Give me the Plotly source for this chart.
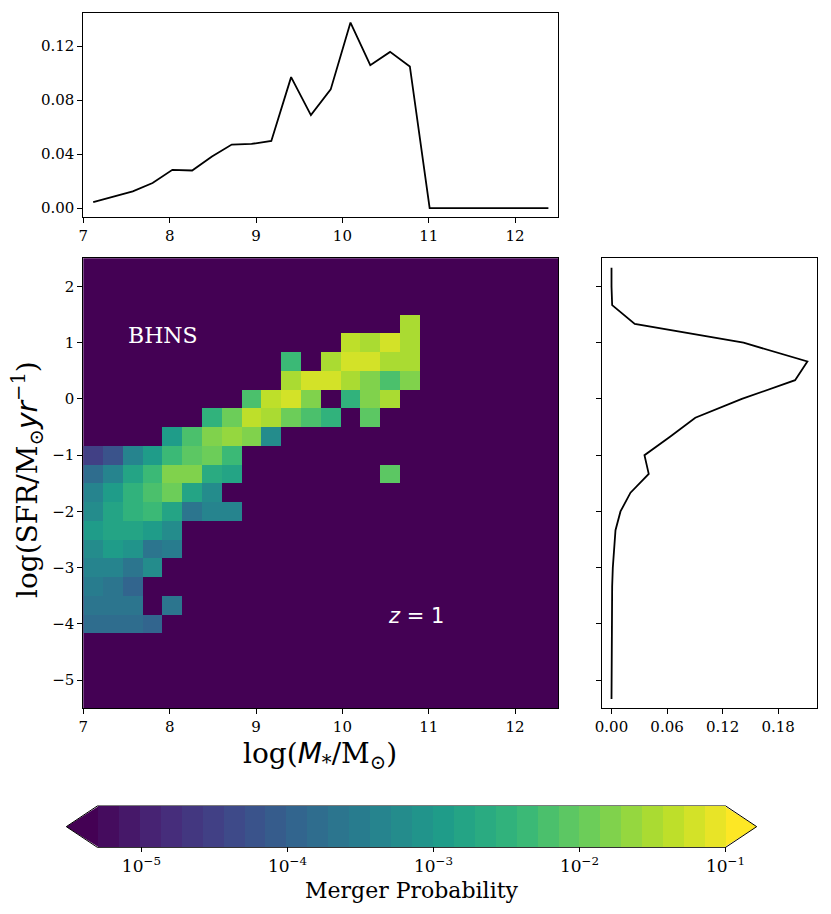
import numpy as np
import plotly.graph_objects as go
from plotly.colors import sample_colorscale

W, H = 831, 914

# 24 x 24 grid of the 2D histogram
mass_edges = np.linspace(7.0, 12.5, 25)
sfr_edges = np.linspace(-5.5, 2.5, 25)
mass_centres = 0.5 * (mass_edges[1:] + mass_edges[:-1])
sfr_centres = 0.5 * (sfr_edges[1:] + sfr_edges[:-1])

# marginal distributions
mass_marginal = [0.0044, 0.0081, 0.0123, 0.0185, 0.0283, 0.0278, 0.0382, 0.0470,
                 0.0475, 0.0497, 0.0970, 0.0689, 0.0879, 0.1374, 0.1058, 0.1157,
                 0.1049, 0.0, 0.0, 0.0, 0.0, 0.0, 0.0, 0.0]
sfr_marginal = [0.0, 0.0, 0.0, 0.0, 0.0004, 0.0007, 0.0007, 0.0014,
                0.0025, 0.0043, 0.0097, 0.0205, 0.0402, 0.0356, 0.0636, 0.0905,
                0.1408, 0.1983, 0.2116, 0.1426, 0.0251, 0.0007, 0.0, 0.0]

# merger probability per cell: rows = SFR bins 4..20, columns = mass bins 0..16
_ = None
first_row = 4
merger_prob = [
    [1.5e-4, 1.5e-4, 1.5e-4, 1.13e-4, _, _, _, _, _, _, _, _, _, _, _, _, _],
    [1.95e-4, 2.6e-4, 2.6e-4, _, 2.6e-4, _, _, _, _, _, _, _, _, _, _, _, _],
    [2.9e-4, 2.05e-4, 1.13e-4, _, _, _, _, _, _, _, _, _, _, _, _, _, _],
    [4.3e-4, 4.75e-4, 2.6e-4, 6.1e-4, _, _, _, _, _, _, _, _, _, _, _, _, _],
    [5.5e-4, 1.0e-3, 7.1e-4, 2.15e-4, 3.5e-4, _, _, _, _, _, _, _, _, _, _, _, _],
    [1.0e-3, 1.5e-3, 1.5e-3, 1.22e-3, 5.25e-4, _, _, _, _, _, _, _, _, _, _, _, _],
    [5.5e-4, 1.5e-3, 3.45e-3, 4.9e-3, 1.56e-3, 1.95e-4, 3.9e-4, 3.9e-4, _, _, _, _, _, _, _, _, _],
    [4.5e-4, 1.05e-3, 3.45e-3, 6.9e-3, 1.08e-2, 1.9e-3, 5.8e-4, _, _, _, _, _, _, _, _, _, _],
    [1.76e-4, 3.9e-4, 1.9e-3, 4.65e-3, 1.39e-2, 1.39e-2, 2.1e-3, 1.42e-3, _, _, _, _, _, _, _, 8.5e-3, _],
    [2.7e-5, 5.9e-5, 4.3e-4, 1.05e-3, 4.65e-3, 7.3e-3, 1.25e-2, 4.65e-3, _, _, _, _, _, _, _, _, _],
    [_, _, _, _, 1.22e-3, 5.6e-3, 1.86e-2, 2.63e-2, 1.39e-2, 5.8e-4, _, _, _, _, _, _, _],
    [_, _, _, _, _, _, 3.1e-3, 1.25e-2, 4.1e-2, 2.76e-2, 1.08e-2, 6.25e-3, 3.45e-3, _, 8.5e-3, _, _],
    [_, _, _, _, _, _, _, _, 5.6e-3, 3.9e-2, 7.1e-2, 1.39e-2, _, 3.1e-3, 1.86e-2, 3.05e-2, _],
    [_, _, _, _, _, _, _, _, _, _, 3.5e-2, 6.7e-2, 5.25e-2, 3.7e-2, 1.39e-2, 6.25e-3, 1.86e-2],
    [_, _, _, _, _, _, _, _, _, _, 4.65e-3, _, 3.5e-2, 6.4e-2, 5.25e-2, 2.76e-2, 3.37e-2],
    [_, _, _, _, _, _, _, _, _, _, _, _, _, 5.0e-2, 2.76e-2, 6.7e-2, 3.7e-2],
    [_, _, _, _, _, _, _, _, _, _, _, _, _, _, _, _, 2.76e-2],
]

prob_min, prob_max = 5e-6, 1e-1
n_levels = 30
cbar_ticks = [-5, -4, -3, -2, -1]

# pad into the full grid, log10 for the colour scale
grid = np.full((len(sfr_centres), len(mass_centres)), np.nan)
for k, row in enumerate(merger_prob):
    for i, v in enumerate(row):
        if v is not None:
            grid[first_row + k, i] = np.log10(v)

zmin, zmax = np.log10(prob_min), np.log10(prob_max)
band_cols = sample_colorscale("Viridis", [(k + 1) / (n_levels + 1) for k in range(n_levels)])
colorscale = []
for k, c in enumerate(band_cols):
    colorscale.append([k / n_levels, c])
    colorscale.append([(k + 1) / n_levels, c])
under_col, over_col = "#440154", "#fde725"


def px(x):
    return x / W


def py(y):
    return 1 - y / H


serif = "DejaVu Serif"
tick_font = dict(family=serif, size=15, color="black")

# colorbar box in pixels
cb_l, cb_r, cb_t, cb_b = 97.3, 725.7, 806.0, 847.3
cb_tip = 31.0

fig = go.Figure()

fig.add_trace(go.Scatter(x=mass_centres, y=mass_marginal, mode="lines",
                         line=dict(color="black", width=1.8),
                         xaxis="x", yaxis="y", showlegend=False))

fig.add_trace(go.Heatmap(
    x=mass_centres, y=sfr_centres, z=grid,
    colorscale=colorscale, zmin=zmin, zmax=zmax,
    xaxis="x2", yaxis="y2", hoverongaps=False,
    colorbar=dict(
        orientation="h", x=px((cb_l + cb_r) / 2), xanchor="center",
        y=py(cb_t), yanchor="top", len=(cb_r - cb_l) / W, lenmode="fraction",
        thickness=cb_b - cb_t, xpad=0, ypad=0,
        outlinewidth=0,
        ticks="outside", ticklen=5, tickcolor="black",
        tickvals=cbar_ticks,
        ticktext=["10<sup>\u2212%d</sup>" % (-t) for t in cbar_ticks],
        tickfont=dict(family=serif, size=17, color="black"),
        title=dict(text="Merger Probability", side="bottom",
                   font=dict(family=serif, size=22, color="black")),
    ),
))

fig.add_trace(go.Scatter(x=sfr_marginal, y=sfr_centres, mode="lines",
                         line=dict(color="black", width=1.8),
                         xaxis="x3", yaxis="y3", showlegend=False))

axis_common = dict(showline=True, linecolor="black", linewidth=1, mirror=True,
                   ticks="outside", ticklen=5, tickwidth=1, tickcolor="black",
                   showgrid=False, zeroline=False, automargin=False, tickfont=tick_font)

mass_ticks = [7, 8, 9, 10, 11, 12]
sfr_ticks = [-5, -4, -3, -2, -1, 0, 1, 2]

fig.update_layout(
    width=W, height=H, autosize=False,
    margin=dict(l=0, r=0, t=0, b=0, autoexpand=False),
    paper_bgcolor="white", plot_bgcolor="white",
    showlegend=False,
    xaxis=dict(domain=[px(83.3), px(558.3)], range=[7, 12.5], anchor="y",
               tickvals=mass_ticks, **axis_common),
    yaxis=dict(domain=[py(217.3), py(13.3)], range=[-0.00687, 0.1443], anchor="x",
               tickvals=[0, 0.04, 0.08, 0.12], tickformat=".2f", **axis_common),
    xaxis2=dict(domain=[px(83.3), px(558.3)], range=[7, 12.5], anchor="y2",
                tickvals=mass_ticks, **axis_common),
    yaxis2=dict(domain=[py(708.3), py(258.3)], range=[-5.5, 2.5], anchor="x2",
                tickvals=sfr_ticks, **axis_common),
    xaxis3=dict(domain=[px(601.7), px(817.3)], range=[-0.0106, 0.2223], anchor="y3",
                tickvals=[0, 0.06, 0.12, 0.18], tickformat=".2f", **axis_common),
    yaxis3=dict(domain=[py(708.3), py(258.3)], range=[-5.5, 2.5], anchor="x3",
                tickvals=sfr_ticks, showticklabels=False,
                **{k: v for k, v in axis_common.items() if k != "tickfont"}),
)

# dark background of the histogram panel (empty cells)
fig.add_shape(type="rect", xref="x2 domain", yref="y2 domain", x0=0, x1=1, y0=0, y1=1,
              fillcolor=under_col, line=dict(width=0), layer="below")

# colorbar extension triangles (overlapping the bar by a pixel) and outline
ymid = (cb_t + cb_b) / 2
fig.add_shape(type="path", xref="paper", yref="paper",
              path="M %f %f L %f %f L %f %f Z" % (px(cb_l + 1.5), py(cb_t), px(cb_l - cb_tip), py(ymid), px(cb_l + 1.5), py(cb_b)),
              fillcolor=under_col, line=dict(width=0))
fig.add_shape(type="path", xref="paper", yref="paper",
              path="M %f %f L %f %f L %f %f Z" % (px(cb_r - 1.5), py(cb_t), px(cb_r + cb_tip), py(ymid), px(cb_r - 1.5), py(cb_b)),
              fillcolor=over_col, line=dict(width=0))
outline = [(cb_l, cb_t), (cb_r, cb_t), (cb_r + cb_tip, ymid), (cb_r, cb_b),
           (cb_l, cb_b), (cb_l - cb_tip, ymid)]
fig.add_shape(type="path", xref="paper", yref="paper",
              path="M " + " L ".join("%f %f" % (px(a), py(b)) for a, b in outline) + " Z",
              line=dict(color="black", width=1))

italic = "<span style='font-family:DejaVu Sans'><i>%s</i></span>"
fig.add_annotation(x=7.5, y=1.13, xref="x2", yref="y2", text="BHNS", showarrow=False,
                   xanchor="left", yanchor="middle",
                   font=dict(family=serif, size=22, color="white"))
fig.add_annotation(x=10.5, y=-3.86, xref="x2", yref="y2", text="<i>z</i> = 1", showarrow=False,
                   xanchor="left", yanchor="middle",
                   font=dict(family="DejaVu Sans", size=21, color="white"))
fig.add_annotation(x=px(320), y=py(755), xref="paper", yref="paper", showarrow=False,
                   text="log(" + italic % "M" + "<sub>*</sub>/M<sub>\u2299</sub>)",
                   xanchor="center", yanchor="middle",
                   font=dict(family=serif, size=28, color="black"))
fig.add_annotation(x=px(28), y=py(480), xref="paper", yref="paper", showarrow=False,
                   text="log(SFR/M<sub>\u2299</sub>" + italic % "yr" + "<sup>\u22121</sup>)",
                   textangle=-90, xanchor="center", yanchor="middle",
                   font=dict(family=serif, size=28, color="black"))

fig.write_html("out.html", config={"displayModeBar": False},
               post_script="document.body.style.margin='0';")
